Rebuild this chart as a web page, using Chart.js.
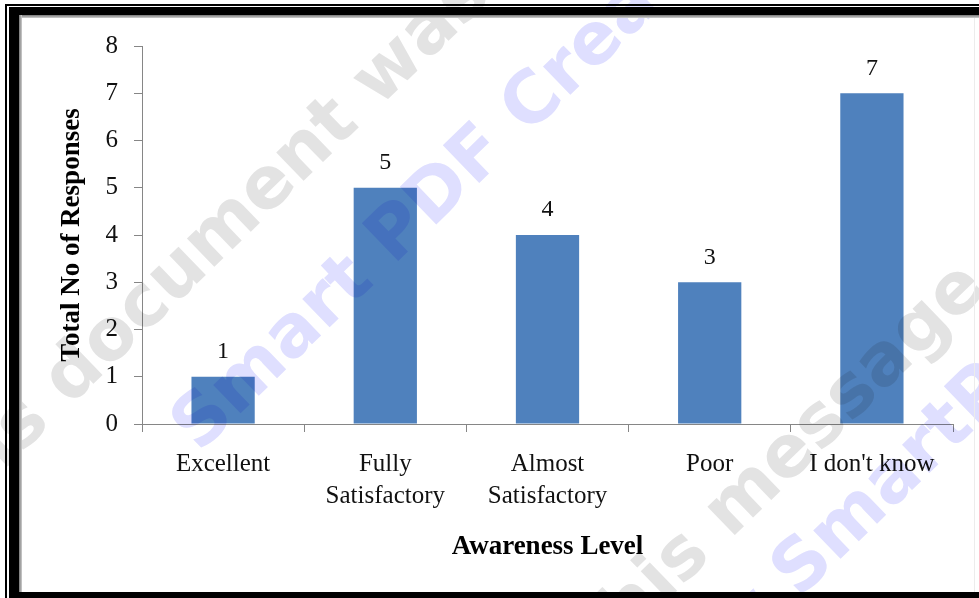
<!DOCTYPE html>
<html>
<head>
<meta charset="utf-8">
<script src="https://cdn.jsdelivr.net/npm/chart.js@4"></script>
<style>
  html, body { margin: 0; padding: 0; background: #fff; overflow: hidden; }
  #wrap { position: relative; width: 979px; height: 598px; }
  #wrap canvas { position: absolute; left: 0; top: 0; }
  .edge { position: absolute; background: #000; }
</style>
</head>
<body>
<div id="wrap">
  <canvas id="awarenessChart" width="979" height="598"></canvas>
  <!-- page frame -->
  <div class="edge" style="left:5px;top:4px;width:974px;height:2px"></div>
  <div class="edge" style="left:5px;top:4px;width:2px;height:594px"></div>
  <div class="edge" style="left:9px;top:7px;width:970px;height:8px"></div>
  <div class="edge" style="left:9px;top:7px;width:10px;height:591px"></div>
  <div class="edge" style="left:9px;top:592px;width:970px;height:6px"></div>
  <div class="edge" style="left:19px;top:15px;width:960px;height:3px;background:linear-gradient(#777,#cfcfcf)"></div>
  <div class="edge" style="left:19px;top:15px;width:3px;height:577px;background:linear-gradient(90deg,#777,#cfcfcf)"></div>
  <div class="edge" style="left:974px;top:18px;width:1px;height:574px;background:#ececec"></div>
</div>

<script>
// Awareness level survey
const categories = ['Excellent', ['Fully', 'Satisfactory'], ['Almost', 'Satisfactory'], 'Poor', "I don't know"];
const responses = [1, 5, 4, 3, 7];
const yMin = 0;
const yMax = 8;
const yStep = 1;

// watermark lines stamped over the page
const stampTexts = ['This document was created with', 'Smart PDF Creator', 'To remove this message purchase the product at', 'www.SmartPDFCreator.com'];
const stampColors = ['rgb(227,227,227)', 'rgb(223,223,255)', 'rgb(227,227,227)', 'rgb(223,223,255)'];
const stampStartX = [-82, 186, 270, 626];
const stampStartY = [527, 440, 958, 740];

const serif = '"Liberation Serif", "Times New Roman", serif';

// value written above each bar
const barValues = {
  id: 'barValues',
  afterDatasetsDraw(chart) {
    const ctx = chart.ctx;
    ctx.save();
    ctx.font = '24px ' + serif;
    ctx.fillStyle = '#111';
    ctx.textAlign = 'center';
    ctx.textBaseline = 'middle';
    chart.getDatasetMeta(0).data.forEach((bar, i) => {
      ctx.fillText(chart.data.datasets[0].data[i], bar.x, bar.y - 25);
    });
    ctx.restore();
  }
};

const stamp = {
  id: 'stamp',
  afterDraw(chart) {
    const ctx = chart.ctx;
    ctx.save();
    ctx.globalCompositeOperation = 'multiply';
    ctx.font = 'bold 72px "DejaVu Sans", sans-serif';
    ctx.textBaseline = 'middle';
    ctx.textAlign = 'left';
    stampTexts.forEach((t, i) => {
      ctx.save();
      ctx.translate(stampStartX[i], stampStartY[i]);
      ctx.rotate(-44 * Math.PI / 180);
      ctx.fillStyle = stampColors[i];
      ctx.fillText(t, 0, 0);
      ctx.restore();
    });
    ctx.restore();
  }
};

const data = {
  labels: categories,
  datasets: [{
    data: responses,
    backgroundColor: '#4F81BD',
    borderWidth: 0,
    barPercentage: 0.39,
    categoryPercentage: 1
  }]
};

const config = {
  type: 'bar',
  data,
  options: {
    responsive: false,
    animation: false,
    layout: { padding: { top: 46, right: 26, bottom: 0, left: 0 } },
    plugins: {
      legend: { display: false },
      tooltip: { enabled: false }
    },
    scales: {
      x: {
        afterFit(scale) { scale.height = 174; },
        grid: { offset: true, drawOnChartArea: false, drawTicks: true, tickLength: 8, color: '#868686' },
        border: { color: '#868686', width: 1 },
        ticks: {
          color: '#111',
          padding: 16,
          maxRotation: 0,
          font: { family: serif, size: 25, lineHeight: 1.28 }
        },
        title: {
          display: true,
          text: 'Awareness Level',
          color: '#000',
          padding: { top: 0, bottom: 35 },
          font: { family: serif, size: 27, weight: 'bold' }
        }
      },
      y: {
        min: yMin,
        max: yMax,
        afterFit(scale) { scale.width = 142; },
        grid: { drawOnChartArea: false, drawTicks: true, tickLength: 8, color: '#868686' },
        border: { color: '#868686', width: 1 },
        ticks: {
          stepSize: yStep,
          color: '#111',
          padding: 16,
          font: { family: serif, size: 25 }
        },
        title: {
          display: true,
          text: 'Total No of Responses',
          color: '#000',
          padding: { top: 56, bottom: 0 },
          font: { family: serif, size: 27, weight: 'bold' }
        }
      }
    }
  },
  plugins: [barValues, stamp]
};

const awarenessChart = new Chart(document.getElementById('awarenessChart'), config);
</script>
</body>
</html>
